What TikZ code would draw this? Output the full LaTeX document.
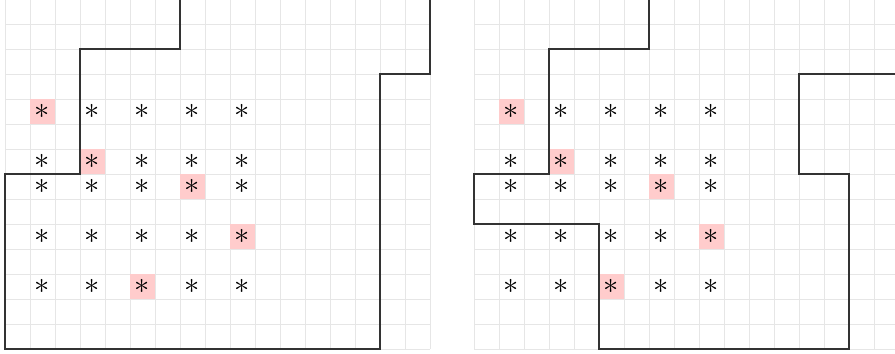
\documentclass[tikz,border=0pt]{standalone}
\usepackage{xcolor}
\usepackage{tikz}
\usetikzlibrary{positioning}
\definecolor{gridgray}{RGB}{230,230,230}
\definecolor{hitpink}{RGB}{255,204,204}

\begin{document}
\begin{tikzpicture}[x=5mm,y=5mm,
  gridline/.style={draw=gridgray,line width=0.5pt,step=5mm},
  hit/.style={fill=hitpink},
  region/.style={draw=black!80,line width=0.65pt},
  star/.style={font=\fontsize{16pt}{16pt}\selectfont,inner sep=0pt}]
  \clip (-0.2,-0.2) rectangle (35.6,13.96);
  % two panels, same points
  \foreach \p/\ox in {L/0,R/18.76} {
    \begin{scope}[shift={(\ox,0)}]
      \draw[gridline] (0,0) grid (17,14);
      \foreach \c/\r in {1/9,3/7,7/6,9/4,5/2}
        \fill[hit] (\c,\r) rectangle ++(1,1);
      \foreach \r in {9,7,6,4,2}
        \foreach \c in {1,3,...,9}
          \node[star] (\p-\c-\r) at (\c+0.5,\r+0.5) {$\ast$};
    \end{scope}
  }
  % left region
  \draw[region] (7,14) -- (7,12) -- (3,12) -- (3,7) -- (0,7) -- (0,0)
    -- (15,0) -- (15,11) -- (17,11) -- (17,14);
  % right region
  \begin{scope}[shift={(18.76,0)}]
    \draw[region] (7,14) -- (7,12) -- (3,12) -- (3,7) -- (0,7) -- (0,5)
      -- (5,5) -- (5,0) -- (15,0) -- (15,7) -- (13,7) -- (13,11) -- (17,11);
  \end{scope}
\end{tikzpicture}
\end{document}
